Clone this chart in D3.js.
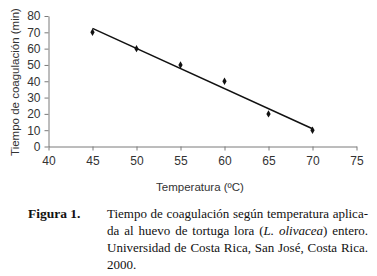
<!DOCTYPE html>
<html>
<head>
<meta charset="utf-8">
<script src="https://cdn.jsdelivr.net/npm/d3@7"></script>
<style>
  body { margin: 0; background: #fff; }
</style>
</head>
<body>
<div id="chart"></div>
<script>
// data
const temps = [45, 50, 55, 60, 65, 70];
const times = [70, 60, 50, 40, 20, 10];
// trend line end points, as drawn
const trendX = [45, 70];
const trendY = [72.4, 10.9];
const xTicks = [40, 45, 50, 55, 60, 65, 70, 75];
const yTicks = [0, 10, 20, 30, 40, 50, 60, 70, 80];
// caption lines; words in _underscores_ are italic
const captionLines = [
  "Tiempo de coagulación según temperatura aplica-",
  "da al huevo de tortuga lora (_L._ _olivacea_) entero.",
  "Universidad de Costa Rica, San José, Costa Rica.",
  "2000."
];

const W = 377, H = 276;
const svg = d3.select("#chart").append("svg")
    .attr("width", W)
    .attr("height", H);

const x = d3.scaleLinear().domain([40, 75]).range([48.5, 356.5]);
const y = d3.scaleLinear().domain([0, 80]).range([146.5, 16]);

const axisColor = "#7a7a7a";
const labelFont = "Liberation Sans, Arial, sans-serif";

// x axis
const gx = svg.append("g")
    .attr("transform", `translate(0,${y(0)})`)
    .call(d3.axisBottom(x).tickValues(xTicks).tickSize(4).tickSizeOuter(0).tickPadding(6));
// y axis
const gy = svg.append("g")
    .attr("transform", `translate(${x(40)},0)`)
    .call(d3.axisLeft(y).tickValues(yTicks).tickSize(4).tickSizeOuter(0).tickPadding(4));

[gx, gy].forEach(g => {
  g.select(".domain").attr("stroke", axisColor);
  g.selectAll(".tick line").attr("stroke", axisColor);
  g.selectAll(".tick text")
    .attr("fill", "#333")
    .style("font-family", labelFont)
    .style("font-size", "12px");
});

// trend line
svg.append("line")
    .attr("x1", x(trendX[0])).attr("y1", y(trendY[0]))
    .attr("x2", x(trendX[1])).attr("y2", y(trendY[1]))
    .attr("stroke", "#111")
    .attr("stroke-width", 1.5);

// points
svg.append("g")
  .selectAll("path")
  .data(temps.map((t, i) => [t, times[i]]))
  .join("path")
    .attr("d", d3.symbol().type(d3.symbolDiamond).size(16))
    .attr("transform", d => `translate(${x(d[0])},${y(d[1])})`)
    .attr("fill", "#111");

// axis titles
svg.append("text")
    .attr("x", 200).attr("y", 191)
    .attr("text-anchor", "middle")
    .attr("fill", "#333")
    .style("font-family", labelFont)
    .style("font-size", "11.5px")
    .text("Temperatura (ºC)");

svg.append("text")
    .attr("transform", `translate(19,82) rotate(-90)`)
    .attr("text-anchor", "middle")
    .attr("fill", "#333")
    .style("font-family", labelFont)
    .style("font-size", "11.5px")
    .text("Tiempo de coagulación (min)");

// caption
const serif = "Liberation Serif, Times New Roman, serif";
svg.append("text")
    .attr("x", 28).attr("y", 218)
    .style("font-family", serif)
    .style("font-size", "13.5px")
    .style("font-weight", "bold")
    .attr("fill", "#111")
    .text("Figura 1.");

// one text element per word so justification does not depend on tspan layout
const left = 107, lineWidth = 261;
const measure = (txt, italic) => {
  const m = svg.append("text")
      .style("font-family", serif).style("font-size", "13px")
      .style("font-style", italic ? "italic" : "normal")
      .text(txt);
  const w = m.node().getComputedTextLength();
  m.remove();
  return w;
};
const cap = svg.append("g");
captionLines.forEach((line, i) => {
  const yy = 218 + i * 17;
  const last = i === captionLines.length - 1;
  const words = line.split(" ").map(w =>
    w.split("_").map((p, k) => ({ text: p, italic: k % 2 === 1, w: 0 })).filter(p => p.text)
  );
  words.forEach(ps => ps.forEach(p => p.w = measure(p.text, p.italic)));
  const widths = words.map(ps => d3.sum(ps, p => p.w));
  const gap = last ? 3.3 : (lineWidth - d3.sum(widths)) / (words.length - 1);
  let cx = left;
  words.forEach((ps, k) => {
    let px = cx;
    ps.forEach(p => {
      cap.append("text")
        .attr("x", px).attr("y", yy)
        .style("font-family", serif)
        .style("font-size", "13px")
        .style("font-style", p.italic ? "italic" : "normal")
        .attr("fill", "#111")
        .text(p.text);
      px += p.w;
    });
    cx += widths[k] + gap;
  });
});
</script>
</body>
</html>
